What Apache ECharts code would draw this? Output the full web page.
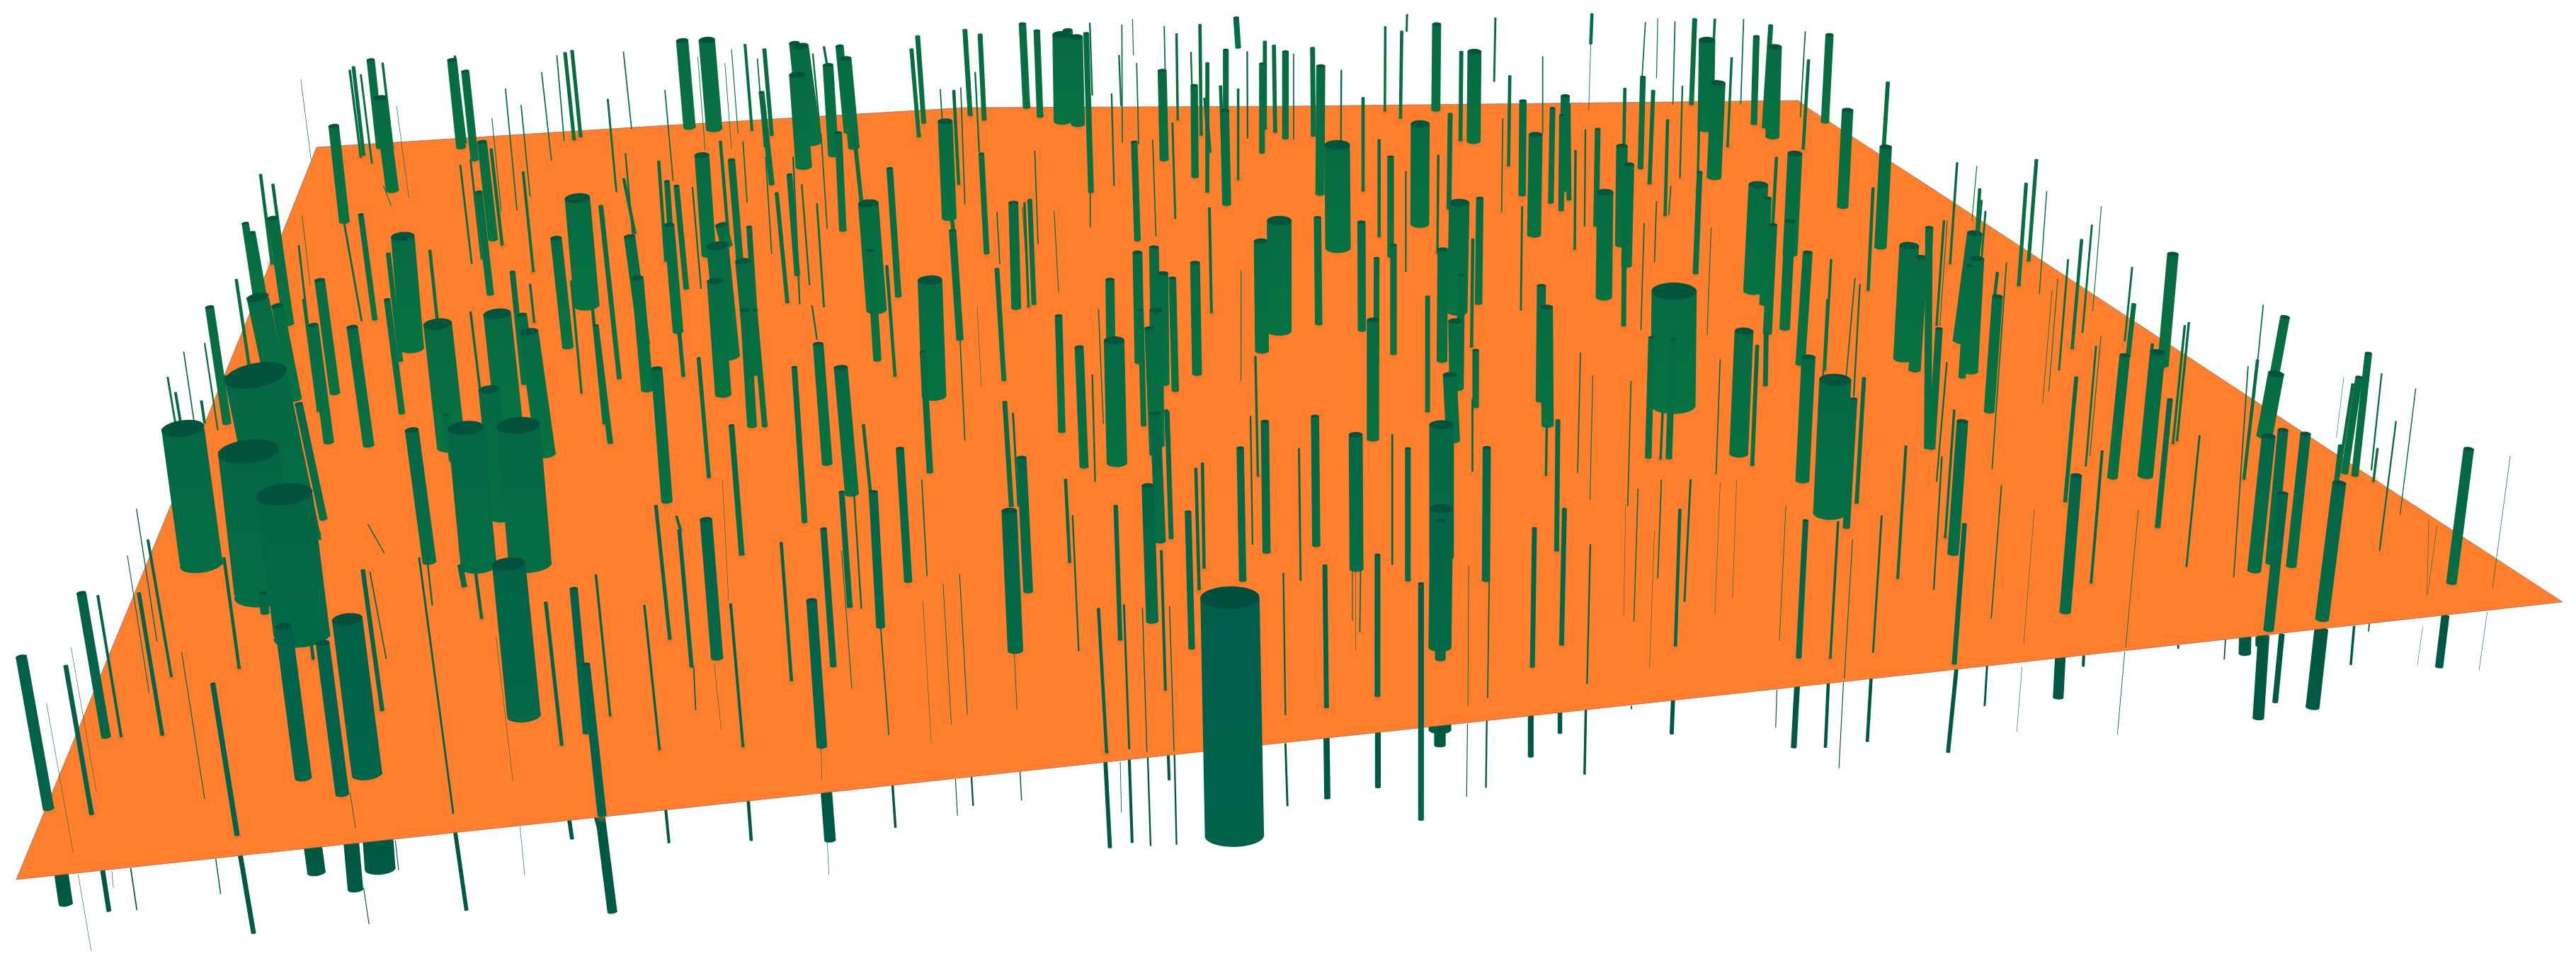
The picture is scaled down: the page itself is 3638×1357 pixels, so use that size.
<!DOCTYPE html>
<html>
<head>
<meta charset="utf-8">
<style>html,body{margin:0;background:#fff}#chart{width:3638px;height:1357px}</style>
<script src="https://cdn.jsdelivr.net/npm/echarts@6/dist/echarts.min.js"></script>
</head>
<body>
<div id="chart"></div>
<script>
const sceneW = 3638, sceneH = 1357;

// plane outline
const planeX = [447, 910, 1363, 1820, 2540, 2554, 2730, 3358, 3619, 2728, 1820, 910, 23, 244, 290, 397, 440];
const planeY = [208, 179, 152, 150, 142, 153, 267, 680, 850, 949, 1048, 1147, 1242, 707, 596, 334, 226];

const crop1 = [
  [812,410,838,722,26],[902,195,925,480,20],[925,318,955,620,32],[860,218,885,505,9],[851,228,878,512,6],[878,243,905,532,5],
  [931,205,955,480,6],[1100,195,1122,480,24],[1132,232,1155,520,20],[1107,182,1133,465,6],[1173,462,1200,780,24],[1195,485,1222,798,8],
  [1165,625,1193,958,18],[1405,645,1428,995,62],[1353,775,1382,1130,28],[1375,172,1397,455,9],[1392,165,1413,445,9],[1355,180,1373,460,3],
  [1318,235,1342,523,3],[1230,288,1258,685,3],[1268,342,1290,640,3],[1197,385,1220,690,2],[1479,323,1500,625,5],[1517,168,1537,420,3],
  [634,568,662,860,8],[664,600,692,880,8],[664,710,702,1055,28],[597,727,628,1000,18],[613,757,640,960,18],[575,910,606,1190,8],
  [510,1000,552,1378,22],[627,968,680,1300,55],[675,995,720,1300,30],[445,1395,490,1838,105],[622,1222,705,1758,155],[605,1470,645,1938,150],
  [692,1610,735,2073,138],[778,912,815,1280,26],[762,1058,800,1440,26],[857,1065,897,1450,28],[980,770,1003,1135,58],[945,825,975,1175,12],
  [942,975,978,1345,16],[878,698,912,1040,14],[1046,815,1065,1055,8],[1065,1055,1098,1455,70],[1210,1022,1240,1400,68],[1190,1268,1222,1688,52],
  [1133,1393,1165,1845,88],[1262,1385,1290,1838,105],[1270,1025,1310,1420,25],[1288,1080,1330,1480,45],[1247,885,1275,1250,14],[1290,925,1300,1050,6],
  [1145,1015,1180,1400,6],[1085,1350,1100,1500,15],[1002,1400,1045,1830,34],[727,1315,787,1690,20],[739,975,775,1340,8],[727,800,760,1180,5],
  [735,700,755,930,1.5],[838,730,880,1045,5],[1120,538,1148,858,5],[1145,520,1172,845,5],[1273,560,1298,885,7],[1462,670,1507,1232,12],
  [1442,1007,1470,1380,8],[1450,1060,1485,1442,14],[1390,915,1415,1280,6],[1518,582,1545,760,8],[1532,770,1568,1120,28],[1522,500,1540,770,4],
  [408,1228,427,1380,5],[427,1278,440,1380,7],[447,1145,472,1370,3],[490,1305,498,1378,7],[498,1118,530,1400,4],[732,258,757,520,1.2],
  [965,345,995,645,1.2],[933,605,952,670,2]
];
const crop2 = [
  [-17,905,7,1270,30],[92,132,110,415,30],[152,130,170,420,40],[50,293,70,590,3],[130,185,148,490,1.5],[245,145,262,425,7],
  [292,160,310,440,10],[285,300,310,600,14],[212,160,228,435,2],[196,205,212,485,1.5],[275,190,292,480,3],[365,140,385,395,26],
  [380,150,412,465,40],[372,243,388,543,40],[410,175,430,460,4],[437,152,445,215,6],[447,212,460,505,26],[475,150,495,430,20],
  [490,190,510,480,28],[472,432,483,750,18],[510,430,530,680,10],[140,505,157,830,36],[185,460,205,778,8],[212,520,232,845,18],
  [35,525,52,850,8],[55,590,80,1080,14],[60,732,82,1080,26],[78,605,102,940,14],[187,732,200,800,30],[178,800,205,1160,55],
  [172,915,192,1285,40],[240,850,265,1215,38],[245,1010,262,1388,24],[268,1010,293,1388,14],[255,738,268,1010,14],[240,460,250,660,3],
  [295,510,310,828,3],[322,628,348,985,10],[353,568,372,895,14],[383,600,402,928,4],[362,510,378,990,4],[420,663,437,1000,5],
  [430,435,445,745,3],[117,610,138,940,4],[85,1082,95,1225,10],[30,1200,55,1633,28],[132,1165,157,1555,10],[212,1385,237,1806,14],
  [365,1195,390,1700,14],[423,1120,445,1510,26],[478,1197,505,1608,34],[533,1383,553,1640,8],[408,995,420,1105,4],[545,662,565,1010,50],
  [550,815,567,1172,20],[597,548,618,965,16],[590,865,610,1225,8],[732,395,742,710,36],[728,470,755,790,10],[750,750,768,1105,18],
  [768,1100,780,1435,3],[695,912,705,1290,60],[678,1145,695,1538,16],[622,1460,642,1893,20],[665,118,680,400,12],[650,160,668,445,10],
  [720,290,730,500,3],[753,295,765,600,8],[770,285,780,665,3],[780,97,793,375,12],[805,235,815,495,4],[817,112,827,390,12],
  [820,500,833,825,14],[920,77,930,350,18],[955,100,963,380,16],[1015,112,1018,395,44],[1050,120,1055,405,34],[1030,98,1040,350,24],
  [1075,108,1087,625,14],[1084,75,1090,310,4],[1162,80,1163,465,3],[1137,305,1143,605,4],[1188,62,1190,180,2],[1192,462,1200,782,16],
  [1198,205,1203,470,3],[1155,180,1160,345,4],[1260,230,1265,520,22],[1265,85,1270,390,3],[1295,110,1298,390,6],[1285,400,1292,712,5],
  [1237,455,1245,770,3],[1338,278,1340,576,18],[1352,80,1355,440,8],[1330,170,1335,390,4],[1365,320,1375,495,10],[1370,205,1370,625,10],
  [1415,162,1415,665,14],[1402,280,1410,578,8],[1412,360,1417,665,22],[1440,57,1445,155,14],[1445,290,1445,585,6],[1467,168,1468,450,4],
  [1503,207,1503,497,14],[1510,135,1510,420,10],[1532,148,1535,430,10],[1560,168,1560,450,16],[1500,785,1503,1143,34],[1545,718,1545,1078,60],
  [1340,855,1345,1218,24],[1375,677,1380,1018,7],[1133,910,1135,1110,22],[1143,1108,1150,1508,50],[1058,1130,1070,1520,22],[1008,1028,1016,1405,18],
  [1240,805,1245,1180,24],[1200,822,1205,1180,24],[1262,890,1265,1250,26],[1285,905,1292,1272,18],[1245,1010,1250,1450,32],[1228,1068,1240,1480,22],
  [1208,1010,1215,1385,14],[1270,1335,1273,1430,10],[1450,1458,1456,1890,18],[1510,1372,1514,1798,20],[1487,1160,1493,1550,6],[1475,1355,1480,1773,4],
  [1358,1508,1362,1850,8],[1342,1525,1350,1920,8],[1272,1340,1282,1753,12],[1243,1345,1256,1763,26],[918,1490,934,1926,24],[877,1308,893,1648,12],
  [897,1345,910,1648,5],[858,875,875,1238,12],[898,660,905,1003,24],[938,650,948,990,12],[925,660,935,1000,6],[858,690,865,860,3],
  [997,685,1008,950,2],[950,490,958,795,3],[1085,625,1085,740,3],[1105,1005,1117,1380,2.5],[1090,1220,1097,1568,4],[920,675,930,860,2],
  [810,1000,820,1260,1],[1452,880,1452,1240,2]
];
const crop3 = [
  [288,47,287,102,5],[360,78,358,358,22],[235,87,234,362,6],[275,102,272,385,8],[503,58,500,265,5],[452,168,450,460,34],
  [420,168,418,458,10],[58,156,60,442,12],[78,215,76,632,22],[128,228,127,480,4],[12,175,12,455,3],[181,318,181,622,8],
  [118,472,120,808,62],[320,403,319,730,46],[393,370,390,680,12],[248,510,248,835,16],[220,455,220,770,8],[285,558,285,885,4],
  [255,797,255,1152,16],[177,723,178,1075,20],[70,708,73,1055,18],[214,840,213,1180,14],[205,1042,205,1430,30],[364,505,362,825,6],
  [415,660,410,1015,50],[465,645,462,988,18],[375,812,373,1175,26],[448,778,445,1130,8],[420,895,417,1265,18],[405,1045,408,1265,34],
  [455,1140,455,1325,16],[338,965,338,1340,12],[392,1220,400,1435,34],[372,1383,372,1813,60],[372,1656,368,2108,56],[370,1696,369,2146,26],
  [64,1355,67,1776,20],[163,1415,165,1853,34],[290,1460,290,1890,14],[482,1457,480,1890,20],[252,1415,252,1838,5],[447,1300,447,1535,5],
  [538,247,535,540,8],[570,328,568,635,18],[601,438,597,765,34],[642,352,638,660,14],[618,183,618,435,3],[521,385,518,692,3],
  [568,672,565,1010,5],[673,312,668,620,22],[680,340,682,650,12],[665,375,663,685,14],[698,490,696,812,6],[722,422,720,737,4],
  [752,420,748,735,14],[770,625,767,968,40],[811,475,808,798,28],[828,535,822,865,26],[817,712,815,1060,12],[862,250,856,548,14],
  [887,295,878,598,10],[818,288,815,530,8],[922,390,916,702,8],[868,72,860,250,3],[898,60,895,255,2],[940,70,935,340,3],
  [958,280,952,580,4],[988,62,980,340,12],[1018,130,1015,420,40],[1037,62,1030,250,6],[1045,270,1035,577,36],[1078,188,1068,478,6],
  [1107,62,1100,340,3],[1138,118,1132,403,16],[1173,82,1157,415,12],[1183,152,1177,445,34],[1257,102,1245,382,3],[1265,195,1252,485,8],
  [1316,113,1305,397,20],[1360,358,1348,673,28],[1458,268,1448,480,10],[1453,478,1440,805,30],[1232,500,1220,828,36],[1187,512,1178,730,8],
  [1143,602,1130,948,48],[1165,645,1155,990,20],[1178,732,1165,1085,22],[1220,720,1207,1070,26],[1162,1085,1160,1255,12],[1263,822,1245,1185,24],
  [1265,1163,1250,1565,34],[1108,1078,1095,1478,46],[1140,1125,1128,1515,10],[1330,1237,1315,1673,78],[1375,1298,1357,1718,18],[1400,1230,1382,1638,10],
  [1422,612,1410,945,8],[1390,925,1375,1290,4],[1378,905,1355,1250,3],[1320,845,1305,1205,6],[1310,975,1300,1240,4],[1558,740,1555,1458,18],
  [1510,800,1495,1168,48],[1540,838,1523,1205,30],[938,948,935,1320,110],[883,1098,875,1490,16],[935,1105,925,1492,16],[910,1340,905,1495,6],
  [628,1000,630,1385,30],[615,930,612,1305,22],[628,1385,626,1548,6],[655,1368,652,1793,12],[710,1148,703,1540,3],[740,1222,733,1628,2],
  [833,1240,825,1648,3],[1050,1170,1040,1545,3],[865,725,857,1075,3],[895,655,890,855,3],[1028,740,1018,1090,2],[930,605,925,700,3],
  [1000,560,990,890,14],[1000,315,995,620,6],[738,45,735,143,8],[735,145,730,360,1.5],[25,1460,29,1890,5],[1502,1452,1482,1883,7]
];
const crop4 = [
  [62,530,45,858,6],[110,540,98,720,2],[117,615,110,760,8],[122,652,115,760,5],[131,688,122,835,5],[105,760,70,1110,38],
  [110,842,95,1210,36],[92,865,74,1228,18],[0,740,-10,1060,8],[30,718,12,1060,6],[38,718,20,1060,2],[160,887,150,1000,8],
  [160,965,140,1340,26],[182,855,147,1528,3],[230,597,212,930,9],[255,520,236,850,9],[280,622,262,958,2.5],[307,908,285,1275,2],
  [293,945,270,1315,1.5],[332,845,310,1205,5],[365,780,342,1135,8],[390,732,367,1083,5],[413,672,392,1012,2],[488,870,470,1110,5],
  [492,990,478,1160,12],[470,1157,440,1555,26],[587,827,563,1190,28],[550,1147,520,1550,38],[537,1120,510,1510,8],[616,1060,587,1445,6],
  [626,1050,597,1435,6],[580,1300,550,1716,14],[652,1418,620,1845,5],[415,1468,388,1898,7],[400,1127,375,1518,5],[352,1228,325,1633,10],
  [412,1095,385,1485,2],[352,1548,325,1993,28],[75,1372,52,1803,28],[18,1070,0,1460,18],[55,1335,33,1751,6],[25,1487,5,1920,4],
  [37,1180,12,1568,4],[807,992,780,1355,3],[860,1032,835,1215,24],[838,1217,810,1420,40],[820,1420,785,1858,34],[855,1400,825,1833,26],
  [910,1412,875,1843,26],[770,1192,735,1880,3],[793,1172,760,1560,8],[1063,1150,1030,1548,18],[1040,1228,1005,1540,18],[1025,1250,990,1550,8],
  [995,1450,985,1568,12],[1003,1228,985,1425,1],[1095,1217,1070,1530,4],[1085,1460,1075,1568,6],[1130,1372,1090,1793,4],[1178,1265,1150,1568,2.5],
  [1307,1462,1265,1898,26],[1408,1485,1365,1913,1.2],[1150,1568,1140,1678,1.5]
];
const crop5 = [
  [52,578,118,1072,28],[160,607,223,1090,12],[113,728,178,1215,1],[173,547,235,1020,1],[198,370,258,838,24],[238,378,295,838,7],
  [338,370,395,832,10],[332,95,382,528,2.5],[360,197,417,642,7],[310,248,363,695,2],[442,562,498,1040,2],[518,665,577,1158,13],
  [545,255,582,615,8],[690,478,738,972,42],[785,532,833,1025,34],[845,455,893,960,75],[1238,275,1275,770,82],[755,505,762,585,8],
  [640,370,645,435,22],[883,295,930,752,11],[1020,255,1103,1088,5],[1328,400,1367,865,9],[1396,355,1428,825,20],[1425,602,1465,1093,22],
  [1450,310,1485,770,6],[1155,280,1172,452,8],[1120,280,1130,348,14],[1207,510,1248,982,1],[1040,265,1052,410,4],[852,1020,865,1135,1.5],
  [900,300,940,585,3],[895,145,935,240,3]
];
const crop6 = [
  [150,130,177,582,30],[78,120,88,165,7],[85,165,115,610,10],[28,85,62,520,9],[0,410,37,880,6],[210,405,240,870,7],
  [333,205,358,655,8],[407,393,432,870,26],[436,160,460,608,16],[190,0,205,395,1],[170,600,187,815,1],[480,232,505,682,2],
  [557,40,575,480,22],[480,40,500,415,14],[510,40,528,420,4],[675,0,688,315,3],[575,482,595,832,3],[678,395,698,858,1],
  [727,340,747,798,1.5],[767,307,786,766,2],[888,102,903,558,38],[1025,0,1035,270,8],[1042,117,1057,558,4],[900,560,907,750,1.5],
  [1147,85,1158,522,11],[1105,420,1125,890,8],[1167,408,1180,878,5],[1212,418,1223,888,2.5],[1225,20,1236,462,30],[1258,232,1268,686,7],
  [1323,105,1332,550,16],[1278,413,1289,885,2.5],[1555,305,1560,767,4],[430,870,432,980,1],[120,610,125,752,3],[1425,385,1436,1160,144]
];
const crop7 = [
  [88,280,92,742,12],[216,245,216,705,14],[322,338,322,1108,14],[598,158,593,610,12],[671,95,664,538,12],[734,212,726,665,4],
  [952,97,941,542,8],[978,0,963,397,5],[1258,133,1241,580,14],[1337,137,1318,582,6],[1443,118,1422,563,5],[907,0,898,322,3],
  [850,30,840,463,2.5],[438,280,436,738,1.5],[488,322,484,712,3],[1372,195,1352,648,2],[1210,85,1194,525,1.5],[890,167,878,615,1],
  [1050,10,1037,440,1],[1090,0,1080,385,1],[163,290,163,555,1],[175,285,173,497,3],[155,290,155,460,2],[820,80,815,445,0.8]
];
const crop8 = [
  [80,145,55,600,12],[170,18,145,453,3],[250,95,224,535,1],[503,100,472,548,1.5],[992,12,950,455,34],[855,45,820,490,26],
  [1150,0,1140,110,1.5],[1210,130,1205,375,1],[1230,150,1207,375,1]
];

// parts that hang under the plane
const under5 = [
  [150,1290,160,1382,35],[250,1275,265,1405,12],[318,1265,333,1402,3],[190,1285,222,1535,1],[272,1275,276,1330,1],[525,1235,537,1350,2.5],
  [585,1225,617,1477,12],[762,1200,770,1280,45],[855,1185,865,1335,38],[920,1175,925,1268,75],[962,1175,970,1272,2],[1108,1150,1135,1402,10],
  [885,1330,898,1448,2],[1265,1125,1277,1290,1],[1385,1105,1392,1170,10],[1455,1095,1462,1128,22],[1460,1090,1490,1408,24]
];
const under6 = [
  [52,1075,60,1183,7],[253,1048,260,1175,8],[443,1020,452,1175,28],[445,1175,449,1288,1],[604,997,611,1133,6],[757,975,762,1095,2],
  [796,968,800,1062,4],[914,950,918,1046,2.5],[1122,920,1133,1198,10],[1158,920,1161,1085,1.5],[1180,910,1187,1182,7],[1225,905,1232,1193,4],
  [1275,897,1277,978,7],[1290,895,1295,1188,4],[1560,860,1565,1063,5]
];
const under7 = [
  [92,840,94,1038,15],[217,825,217,1002,14],[435,795,433,1033,2],[482,785,480,1003,4],[589,770,589,902,14],[660,760,660,826,11],
  [723,750,720,960,6],[935,720,932,828,10],[1237,675,1229,872,14],[1313,665,1306,872,8],[1350,660,1339,940,2],[1417,650,1408,853,8],
  [1188,685,1185,808,2],[834,737,834,748,3],[368,800,368,815,55],[368,810,368,865,28]
];
const under8 = [
  [60,620,40,888,10],[135,605,129,737,5],[220,610,207,822,1],[470,560,452,830,1.5],[313,580,308,710,26],[370,575,369,608,7],
  [600,540,600,550,5],[715,520,712,587,3],[763,515,762,567,30],[808,510,795,777,28],[800,515,800,540,24],[852,505,836,725,14],
  [948,490,927,742,34],[1028,478,1020,603,6],[1065,470,1063,495,3],[1250,445,1235,610,20],[1352,432,1332,622,1],[1195,480,1182,605,0.8]
];

const cropW = 910, cropH = 680, cropPx = 1568;
function toScene(rows, x0, y0) {
  const sx = cropW / cropPx, sy = cropH / cropPx;
  return rows.map(r => [x0 + r[0] * sx, y0 + r[1] * sy, x0 + r[2] * sx, y0 + r[3] * sy, r[4] * sx]);
}
const rods = [].concat(
  toScene(crop1, 0, 0), toScene(crop2, 910, 0), toScene(crop3, 1820, 0), toScene(crop4, 2728, 0),
  toScene(crop5, 0, 677), toScene(crop6, 910, 677), toScene(crop7, 1820, 677), toScene(crop8, 2728, 677)
).sort((a, b) => a[3] - b[3]);
const underRods = [].concat(
  toScene(under5, 0, 677), toScene(under6, 910, 677), toScene(under7, 1820, 677), toScene(under8, 2728, 677)
).sort((a, b) => a[3] - b[3]);

function insidePlane(x, y) {
  let hit = false;
  for (let i = 0, j = planeX.length - 1; i < planeX.length; j = i++) {
    if ((planeY[i] > y) !== (planeY[j] > y) &&
        x < (planeX[j] - planeX[i]) * (y - planeY[i]) / (planeY[j] - planeY[i]) + planeX[i]) hit = !hit;
  }
  return hit;
}

function mix(a, b, t) {
  const c = a.map((v, i) => Math.round(v + (b[i] - v) * t));
  return `rgb(${c[0]},${c[1]},${c[2]})`;
}

// closer rods read bluer and darker
function rodItem(under) {
  return (params, api) => {
    const top = api.coord([api.value(0), api.value(1)]);
    const base = api.coord([api.value(2), api.value(3)]);
    const w = Math.max(api.size([api.value(4), 0])[0], 0.5);
    const t = Math.min(Math.max((base[1] - 600) / 600, 0), 1);
    const fillTop = under ? '#00563f' : mix([6, 106, 66], [0, 94, 74], t);
    const fillBase = under ? '#005a48' : mix([8, 114, 64], [0, 98, 76], t);
    const fill = new echarts.graphic.LinearGradient(0, 0, 0, 1, [
      { offset: 0, color: fillTop }, { offset: 1, color: fillBase }
    ]);
    const kids = [{
      type: 'polygon',
      shape: { points: [[top[0] - w / 2, top[1]], [top[0] + w / 2, top[1]], [base[0] + w / 2, base[1]], [base[0] - w / 2, base[1]]] },
      style: { fill }
    }];
    if (w > 2) {
      const ry = w * 0.19, rot = Math.atan2(base[0] - top[0], base[1] - top[1]);
      kids.push({
        type: 'ellipse', x: base[0], y: base[1], rotation: rot,
        shape: { cx: 0, cy: 0, rx: w / 2, ry },
        style: { fill: fillBase }
      });
      kids.push({
        type: 'ellipse', x: top[0], y: top[1], rotation: rot,
        shape: { cx: 0, cy: 0, rx: w / 2, ry },
        style: { fill: under ? fillTop : w > 7 ? mix([0, 84, 60], [0, 78, 62], t) : fillTop }
      });
    }
    return { type: 'group', children: kids };
  };
}

function glowItem(params, api) {
  const base = api.coord([api.value(2), api.value(3)]);
  const w = api.size([api.value(4), 0])[0];
  if (w < 3 || !insidePlane(base[0], base[1])) return null;
  const r = w / 2 + 14;
  return {
    type: 'ellipse', x: base[0], y: base[1],
    shape: { cx: 0, cy: 0, rx: r, ry: r * 0.55 },
    style: {
      fill: new echarts.graphic.RadialGradient(0.5, 0.5, 0.5, [
        { offset: 0, color: 'rgba(205,95,35,0.7)' }, { offset: 1, color: 'rgba(255,127,46,0)' }
      ])
    }
  };
}

const chart = echarts.init(document.getElementById('chart'), null, { renderer: 'canvas' });
chart.setOption({
  animation: false,
  backgroundColor: '#fff',
  grid: { left: 0, right: 0, top: 0, bottom: 0 },
  xAxis: { type: 'value', min: 0, max: sceneW, show: false },
  yAxis: { type: 'value', min: 0, max: sceneH, inverse: true, show: false },
  series: [
    { type: 'custom', coordinateSystem: 'cartesian2d', clip: false, progressive: 0, silent: true, z: 1,
      renderItem: rodItem(true), data: underRods },
    { type: 'custom', coordinateSystem: 'cartesian2d', clip: false, progressive: 0, silent: true, z: 2,
      data: [planeX.map((x, i) => [x, planeY[i]])],
      renderItem: (params, api) => ({
        type: 'polygon',
        shape: { points: planeX.map((x, i) => api.coord([x, planeY[i]])) },
        style: { fill: '#ff7f2e', stroke: '#9a6a50', lineWidth: 0.8 }
      }) },
    { type: 'custom', coordinateSystem: 'cartesian2d', clip: false, progressive: 0, silent: true, z: 3,
      renderItem: glowItem, data: rods },
    { type: 'custom', coordinateSystem: 'cartesian2d', clip: false, progressive: 0, silent: true, z: 4,
      renderItem: rodItem(false), data: rods }
  ]
});
</script>
</body>
</html>
